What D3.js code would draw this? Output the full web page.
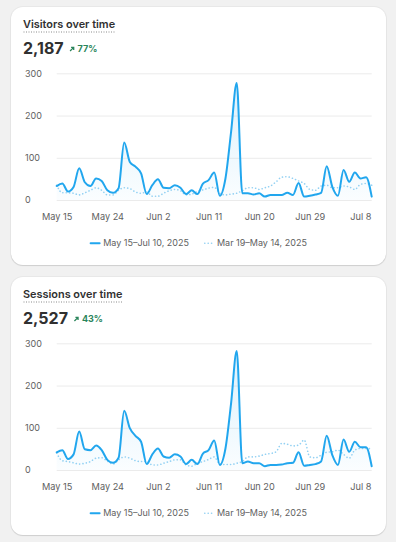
<!DOCTYPE html>
<html>
<head>
<meta charset="utf-8">
<script src="https://cdn.jsdelivr.net/npm/d3@7"></script>
<style>
  body {
    margin: 0;
    background: #f1f1f1;
    font-family: Inter, "Noto Sans", sans-serif;
    width: 396px;
    height: 542px;
    overflow: hidden;
    position: relative;
  }
  .card {
    position: absolute;
    left: 11px;
    width: 375px;
    height: 258px;
    background: #fff;
    border-radius: 12px;
    box-shadow: 0 1px 1px rgba(26, 26, 26, 0.12), 0 0 0 1px rgba(26, 26, 26, 0.04);
  }
  .card svg { display: block; }
</style>
</head>
<body>
<div class="card" id="visitors" style="top:7px"></div>
<div class="card" id="sessions" style="top:277px"></div>
<script>
const startDate = new Date(2025, 4, 15);
const tickDates = [
  new Date(2025, 4, 15),
  new Date(2025, 4, 24),
  new Date(2025, 5, 2),
  new Date(2025, 5, 11),
  new Date(2025, 5, 20),
  new Date(2025, 5, 29),
  new Date(2025, 6, 8),
];
const yTicks = [0, 100, 200, 300];
const legendLabels = ["May 15–Jul 10, 2025", "Mar 19–May 14, 2025"];

const visitorsCurrent = [
  33, 39, 20, 31, 75, 42, 33, 51, 45, 23, 17, 28, 136, 90, 79, 63, 14, 35, 49,
  29, 28, 35, 29, 14, 23, 14, 39, 47, 65, 10, 51, 161, 277, 16, 16, 13, 16, 8,
  12, 12, 12, 17, 12, 40, 8, 10, 13, 17, 80, 31, 10, 71, 43, 65, 51, 54, 8,
];
const visitorsPrevious = [
  35, 17, 17, 16, 12, 17, 23, 29, 23, 12, 12, 23, 29, 27, 19, 16, 19, 9, 9,
  16, 22, 25, 22, 12, 14, 20, 24, 28, 30, 16, 12, 14, 16, 22, 29, 29, 25, 29,
  33, 43, 54, 55, 51, 45, 39, 25, 23, 33, 35, 29, 29, 33, 31, 25, 37, 39, 35,
];
const sessionsCurrent = [
  42, 47, 26, 37, 91, 49, 47, 58, 47, 24, 17, 29, 140, 99, 81, 67, 14, 37, 51,
  32, 29, 37, 32, 14, 24, 14, 39, 47, 70, 12, 51, 158, 282, 16, 20, 16, 16, 9,
  12, 12, 13, 16, 17, 42, 10, 12, 14, 20, 81, 35, 12, 72, 43, 67, 54, 54, 9,
];
const sessionsPrevious = [
  40, 22, 20, 17, 14, 16, 20, 28, 29, 21, 14, 24, 31, 28, 22, 20, 20, 12, 12,
  16, 20, 24, 24, 12, 9, 16, 20, 25, 31, 14, 13, 13, 16, 20, 31, 31, 33, 37,
  39, 43, 63, 61, 57, 59, 71, 31, 29, 35, 42, 43, 47, 37, 28, 47, 51, 51, 50,
];

const W = 375, H = 258;
const plot = { left: 45.7, right: 360.7, top: 66.3, bottom: 193 };
const lineColor = "#21a6ee";
const prevColor = "#93d1f3";
const textColor = "#303030";
const mutedColor = "#616161";

function drawCard(sel, title, total, change, current, previous) {
  const days = current.map((_, i) => d3.timeDay.offset(startDate, i));

  const svg = d3.select(sel).append("svg").attr("width", W).attr("height", H);

  const gradId = sel.slice(1) + "-grad";
  const grad = svg.append("defs").append("linearGradient")
    .attr("id", gradId).attr("x1", 0).attr("x2", 0).attr("y1", 0).attr("y2", 1);
  grad.append("stop").attr("offset", "0%").attr("stop-color", lineColor).attr("stop-opacity", 0.16);
  grad.append("stop").attr("offset", "100%").attr("stop-color", lineColor).attr("stop-opacity", 0.02);

  // header
  const t = svg.append("text")
    .attr("x", 12).attr("y", 21.3)
    .attr("font-size", "10.9px").attr("font-weight", 600)
    .attr("fill", textColor).text(title);
  const tw = t.node().getComputedTextLength();
  svg.append("line")
    .attr("x1", 12.5).attr("x2", 12 + tw).attr("y1", 25).attr("y2", 25)
    .attr("stroke", "#8a8a8a").attr("stroke-width", 1)
    .attr("stroke-dasharray", "1 1.5");

  const n = svg.append("text")
    .attr("x", 12).attr("y", 47.3)
    .attr("font-size", "16px").attr("font-weight", 700)
    .attr("fill", textColor).text(total);
  const nw = n.node().getComputedTextLength();

  const ax = 12 + nw + 6.5, ay = 44;
  svg.append("path")
    .attr("d", `M${ax},${ay} L${ax + 3.6},${ay - 3.6} M${ax + 1},${ay - 3.6} L${ax + 3.6},${ay - 3.6} L${ax + 3.6},${ay - 1}`)
    .attr("stroke", "#29845a").attr("stroke-width", 1.3).attr("fill", "none");
  svg.append("text")
    .attr("x", ax + 7.5).attr("y", 45.3)
    .attr("font-size", "9px").attr("font-weight", 700)
    .attr("fill", "#29845a").text(change);

  // scales
  const x = d3.scaleTime()
    .domain([startDate, days[days.length - 1]])
    .range([plot.left, plot.right]);
  const y = d3.scaleLinear().domain([0, 300]).range([plot.bottom, plot.top]);

  const yAxis = svg.append("g")
    .attr("transform", `translate(${plot.left},0)`)
    .call(d3.axisLeft(y).tickValues(yTicks).tickSize(-(plot.right - plot.left)).tickPadding(0));
  yAxis.select(".domain").remove();
  yAxis.selectAll(".tick line").attr("stroke", "#ebebeb");
  yAxis.selectAll(".tick text")
    .attr("x", 14 - plot.left).attr("text-anchor", "start")
    .attr("font-family", "Inter, sans-serif").attr("font-size", "9px")
    .attr("fill", mutedColor);

  const xAxis = svg.append("g")
    .attr("transform", `translate(0,${plot.bottom})`)
    .call(d3.axisBottom(x).tickValues(tickDates).tickSize(0).tickFormat(d3.timeFormat("%b %-d")));
  xAxis.select(".domain").remove();
  xAxis.selectAll(".tick text")
    .attr("y", 20).attr("dy", 0)
    .attr("font-family", "Inter, sans-serif").attr("font-size", "9.2px")
    .attr("fill", mutedColor);

  // series
  const area = d3.area()
    .x((d, i) => x(days[i]))
    .y0(y(0))
    .y1((d) => y(d))
    .curve(d3.curveMonotoneX);
  const line = d3.line()
    .x((d, i) => x(days[i]))
    .y((d) => y(d))
    .curve(d3.curveMonotoneX);

  svg.append("path").datum(current)
    .attr("d", area).attr("fill", `url(#${gradId})`);

  svg.append("path").datum(previous)
    .attr("d", line).attr("fill", "none")
    .attr("stroke", prevColor).attr("stroke-width", 1.6)
    .attr("stroke-linecap", "round").attr("stroke-dasharray", "0.1 3.3");

  svg.append("path").datum(current)
    .attr("d", line).attr("fill", "none")
    .attr("stroke", lineColor).attr("stroke-width", 2)
    .attr("stroke-linejoin", "round").attr("stroke-linecap", "round");

  // legend
  const legend = svg.append("g");
  const ly = 236.3;
  const items = legend.selectAll("g").data(legendLabels).enter().append("g");
  items.append("text")
    .attr("x", 13).attr("y", ly).attr("dy", "0.35em")
    .attr("font-size", "9px").attr("fill", mutedColor)
    .text((d) => d);
  let offset = 0;
  items.each(function (d, i) {
    const g = d3.select(this);
    if (i === 0) {
      g.append("line").attr("x1", 0.5).attr("x2", 9.5).attr("y1", ly).attr("y2", ly)
        .attr("stroke", lineColor).attr("stroke-width", 2).attr("stroke-linecap", "round");
    } else {
      g.append("line").attr("x1", 0.8).attr("x2", 9).attr("y1", ly).attr("y2", ly)
        .attr("stroke", prevColor).attr("stroke-width", 1.6).attr("stroke-linecap", "round")
        .attr("stroke-dasharray", "0.1 3.3");
    }
    g.attr("transform", `translate(${offset},0)`);
    offset += 13 + g.select("text").node().getComputedTextLength() + 15;
  });
  const totalW = offset - 15;
  legend.attr("transform", `translate(${(W - totalW) / 2},0)`);
}

drawCard("#visitors", "Visitors over time", "2,187", "77%", visitorsCurrent, visitorsPrevious);
drawCard("#sessions", "Sessions over time", "2,527", "43%", sessionsCurrent, sessionsPrevious);
</script>
</body>
</html>
